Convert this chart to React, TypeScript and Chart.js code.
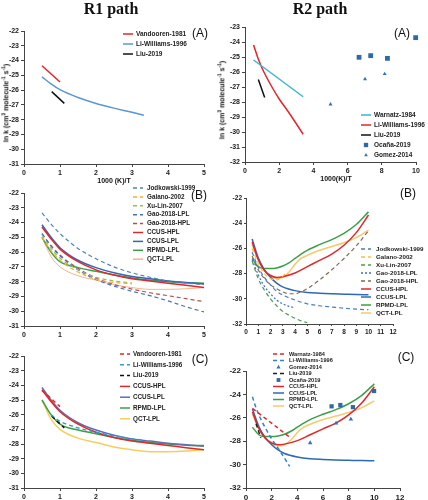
import React, { useEffect, useRef } from 'react';
import { Chart, registerables } from 'chart.js';

Chart.register(...registerables);

type P = [number, number][];

// ---------- R1 path, panel (A)
const R1A_VANDOOREN: P = [[0.5, -24.35], [1.0, -25.45]];
const R1A_LI_WILLIAMS: P = [[0.5, -25.1], [0.75, -25.58], [1, -25.97], [1.5, -26.5], [2, -26.9], [2.5, -27.22], [3, -27.5], [3.33, -27.7]];
const R1A_LIU: P = [[0.77, -26.1], [1.12, -26.9]];

// ---------- R1 path, model curves (B, C)
const R1_CCUS_HPL: P = [[0.5, -24.3], [0.75, -25.1], [1, -25.8], [1.5, -26.65], [2, -27.2], [2.5, -27.55], [3, -27.8], [3.5, -27.95], [4, -28.1], [4.5, -28.25], [5, -28.4]];
const R1_CCUS_LPL: P = [[0.5, -24.15], [0.75, -25.0], [1, -25.7], [1.5, -26.55], [2, -27.05], [2.5, -27.4], [3, -27.65], [3.5, -27.8], [4, -27.95], [4.5, -28.05], [5, -28.15]];
const R1_RPMD_LPL: P = [[0.5, -25.0], [0.75, -26.0], [1, -26.65], [1.5, -27.05], [2, -27.3], [2.5, -27.55], [3, -27.75], [3.5, -27.9], [4, -28.0], [4.5, -28.08], [5, -28.1]];
const R1_QCT_LPL: P = [[0.5, -25.0], [0.75, -26.3], [1, -27.0], [1.5, -27.6], [2, -27.9], [2.5, -28.2], [3, -28.4], [3.5, -28.52], [4, -28.52], [4.5, -28.48], [5, -28.4]];

// ---------- R1 path, panel (B) literature
const R1B_JODKOWSKI: P = [[0.5, -23.35], [0.75, -24.1], [1, -24.75], [1.5, -25.75], [2, -26.45], [2.5, -27.0], [3, -27.4], [3.5, -27.7], [4, -27.95], [4.5, -28.1], [5, -28.2]];
const R1B_GALANO: P = [[0.5, -25.0], [0.75, -25.9], [1, -26.55], [1.5, -27.35], [2, -27.85], [2.5, -28.05], [3, -28.15]];
const R1B_XU_LIN: P = [[0.5, -24.85], [0.75, -25.75], [1, -26.4], [1.5, -27.2], [2, -27.7], [2.5, -27.95], [3, -28.1]];
const R1B_GAO_LPL: P = [[0.5, -24.75], [0.75, -25.6], [1, -26.25], [1.5, -27.2], [2, -27.85], [2.5, -28.3], [3, -28.65], [3.5, -28.95], [4, -29.3], [4.5, -29.7], [5, -30.05]];
const R1B_GAO_HPL: P = [[0.5, -24.75], [0.75, -25.55], [1, -26.2], [1.5, -27.1], [2, -27.75], [2.5, -28.2], [3, -28.5], [3.5, -28.75], [4, -28.95], [4.5, -29.15], [5, -29.35]];

// ---------- R1 path, panel (C) literature
const R1C_LI_WILLIAMS: P = [[0.75, -26.0], [1, -26.45], [1.5, -26.9], [2, -27.2], [2.5, -27.45], [3, -27.65], [3.33, -27.75]];

// ---------- R2 path, panel (A)
const R2A_WARNATZ: P = [[0.5, -25.2], [3.4, -27.65]];
const R2A_LI_WILLIAMS: P = [[0.5, -24.2], [0.75, -25.05], [1, -25.75], [1.5, -26.85], [2, -27.8], [2.5, -28.6], [3, -29.45], [3.4, -30.15]];
const R2A_LIU: P = [[0.78, -26.5], [1.15, -27.7]];
const R2_OCANA: P = [[6.67, -25.02], [7.35, -24.91], [8.33, -25.09], [9.98, -23.71]];
const R2_GOMEZ: P = [[5.0, -28.15], [7.02, -26.47], [8.17, -26.13]];

// ---------- R2 path, model curves (B, C)
const R2_CCUS_HPL: P = [[0.5, -25.5], [1, -26.9], [1.5, -27.75], [2, -28.15], [2.5, -28.3], [3, -28.25], [4, -27.95], [5, -27.45], [6, -26.95], [7, -26.45], [8, -25.75], [9, -24.75], [10, -23.35]];
const R2_CCUS_LPL: P = [[0.5, -25.25], [1, -26.75], [1.5, -27.7], [2, -28.3], [2.5, -28.75], [3, -29.05], [4, -29.35], [5, -29.5], [6, -29.56], [7, -29.6], [8, -29.63], [9, -29.66], [10, -29.68]];
const R2_RPMD_LPL: P = [[0.5, -26.8], [1, -27.45], [1.5, -27.6], [2, -27.6], [2.5, -27.55], [3, -27.4], [3.5, -27.15], [4, -26.8], [4.5, -26.45], [5, -26.15], [6, -25.7], [7, -25.3], [8, -24.8], [9, -24.1], [10, -23.1]];
const R2_QCT_LPL: P = [[0.5, -25.7], [1, -26.9], [1.5, -27.7], [2, -28.2], [2.5, -28.4], [3, -28.3], [3.5, -27.9], [4, -27.25], [4.5, -26.8], [5, -26.55], [6, -26.15], [7, -25.85], [8, -25.55], [9, -25.15], [10, -24.55]];

// ---------- R2 path, panel (B) literature
const R2B_JODKOWSKI: P = [[0.5, -26.3], [1, -27.5], [1.5, -28.3], [2, -28.9], [2.5, -29.4], [3, -29.7], [4, -30.1], [5, -30.4], [6, -30.55], [7, -30.65], [8, -30.75], [9, -30.82], [10, -30.87]];
const R2B_GALANO: P = [[0.5, -26.0], [1, -27.2], [1.5, -28.0], [2, -28.4], [2.5, -28.5], [3, -28.2], [3.3, -27.9]];
const R2B_XU_LIN: P = [[0.5, -27.0], [1, -28.4], [1.5, -29.3], [2, -30.0], [2.5, -30.55], [3, -31.0], [3.5, -31.3], [4, -31.55], [4.5, -31.75], [5, -31.9]];
const R2B_GAO_LPL: P = [[0.5, -26.9], [1, -28.1], [1.5, -29.0], [2, -29.6], [2.5, -30.1], [3, -30.4], [3.5, -30.6], [4, -30.7]];
const R2B_GAO_HPL: P = [[0.5, -26.6], [1, -27.7], [1.5, -28.4], [2, -28.9], [2.5, -29.2], [3, -29.45], [3.5, -29.6], [4, -29.6], [4.5, -29.45], [5, -29.2], [6, -28.5], [7, -27.7], [8, -26.8], [9, -25.8], [10, -24.6]];

const W = 428;
const H = 500;
const SANS = '"Liberation Sans", Arial, sans-serif';

Chart.defaults.font.family = SANS;

interface Series { label: string; pts: P; color: string; dash?: number[]; width?: number; marker?: 'rect' | 'triangle'; r?: number; }
interface Leg { x: number; y: number; dy: number; len: number; gap: number; font: number; }
interface Panel {
  area: [number, number, number, number];
  xr: [number, number, number];
  yr: [number, number, number];
  tick: number; tickLen: number; tickPad: number; xh: number;
  series: Series[];
  leg: Leg;
}

const RED = '#e3262b';
const BLUE = '#2f68b5';
const GREEN = '#3b9f48';
const DASH = [4, 3];

const PANELS: Panel[] = [
  {
    area: [24, 31, 204, 164], xr: [0, 5, 1], yr: [-31, -22, 1], tick: 7, tickLen: 3, tickPad: 2, xh: 14,
    series: [
      { label: 'Vandooren-1981', pts: R1A_VANDOOREN, color: RED },
      { label: 'Li-Williams-1996', pts: R1A_LI_WILLIAMS, color: '#5b97d3' },
      { label: 'Liu-2019', pts: R1A_LIU, color: '#111111' },
    ],
    leg: { x: 123, y: 34, dy: 10, len: 10, gap: 3, font: 6.5 },
  },
  {
    area: [24, 193, 204, 326], xr: [0, 5, 1], yr: [-31, -22, 1], tick: 7, tickLen: 3, tickPad: 2, xh: 14,
    series: [
      { label: 'Jodkowski-1999', pts: R1B_JODKOWSKI, color: '#4f81bd', dash: DASH, width: 1.2 },
      { label: 'Galano-2002', pts: R1B_GALANO, color: '#f2b134', dash: DASH, width: 1.2 },
      { label: 'Xu-Lin-2007', pts: R1B_XU_LIN, color: '#9bbb59', dash: DASH, width: 1.2 },
      { label: 'Gao-2018-LPL', pts: R1B_GAO_LPL, color: '#4472c4', dash: DASH, width: 1.2 },
      { label: 'Gao-2018-HPL', pts: R1B_GAO_HPL, color: '#b5524a', dash: DASH, width: 1.2 },
      { label: 'CCUS-HPL', pts: R1_CCUS_HPL, color: RED },
      { label: 'CCUS-LPL', pts: R1_CCUS_LPL, color: BLUE },
      { label: 'RPMD-LPL', pts: R1_RPMD_LPL, color: GREEN },
      { label: 'QCT-LPL', pts: R1_QCT_LPL, color: '#f6b58a', width: 1 },
    ],
    leg: { x: 133, y: 188, dy: 8.9, len: 10, gap: 4, font: 6.3 },
  },
  {
    area: [24, 356, 204, 488], xr: [0, 5, 1], yr: [-31, -22, 1], tick: 7, tickLen: 3, tickPad: 2, xh: 14,
    series: [
      { label: 'Vandooren-1981', pts: R1A_VANDOOREN, color: RED, dash: DASH },
      { label: 'Li-Williams-1996', pts: R1C_LI_WILLIAMS, color: '#2a9fcf', dash: DASH },
      { label: 'Liu-2019', pts: R1A_LIU, color: '#111111', dash: DASH },
      { label: 'CCUS-HPL', pts: R1_CCUS_HPL, color: RED },
      { label: 'CCUS-LPL', pts: R1_CCUS_LPL, color: '#5a6fb8' },
      { label: 'RPMD-LPL', pts: R1_RPMD_LPL, color: GREEN },
      { label: 'QCT-LPL', pts: R1_QCT_LPL, color: '#f5cf5c' },
    ],
    leg: { x: 120, y: 354, dy: 10.8, len: 10, gap: 3, font: 6.3 },
  },
  {
    area: [245, 27, 416, 162], xr: [0, 10, 2], yr: [-32, -23, 1], tick: 7, tickLen: 3, tickPad: 2, xh: 14,
    series: [
      { label: 'Warnatz-1984', pts: R2A_WARNATZ, color: '#3db5d5' },
      { label: 'Li-Williams-1996', pts: R2A_LI_WILLIAMS, color: RED },
      { label: 'Liu-2019', pts: R2A_LIU, color: '#111111' },
      { label: 'Ocaña-2019', pts: R2_OCANA, color: '#2f6aa8', marker: 'rect', r: 3.4 },
      { label: 'Gomez-2014', pts: R2_GOMEZ, color: '#2e75b6', marker: 'triangle', r: 2.3 },
    ],
    leg: { x: 361, y: 115, dy: 10, len: 10, gap: 3, font: 6.5 },
  },
  {
    area: [246, 198, 393, 324], xr: [0, 12, 1], yr: [-32, -22, 2], tick: 6.5, tickLen: 2, tickPad: 2, xh: 13,
    series: [
      { label: 'Jodkowski-1999', pts: R2B_JODKOWSKI, color: '#4a7cc0', dash: DASH, width: 1.2 },
      { label: 'Galano-2002', pts: R2B_GALANO, color: '#f5c04a', dash: DASH, width: 1.2 },
      { label: 'Xu-Lin-2007', pts: R2B_XU_LIN, color: '#4f9a55', dash: DASH, width: 1.2 },
      { label: 'Gao-2018-LPL', pts: R2B_GAO_LPL, color: '#3b6fc0', dash: [2, 2], width: 1.2 },
      { label: 'Gao-2018-HPL', pts: R2B_GAO_HPL, color: '#7d6a52', dash: DASH, width: 1.2 },
      { label: 'CCUS-HPL', pts: R2_CCUS_HPL, color: RED },
      { label: 'CCUS-LPL', pts: R2_CCUS_LPL, color: BLUE },
      { label: 'RPMD-LPL', pts: R2_RPMD_LPL, color: GREEN },
      { label: 'QCT-LPL', pts: R2_QCT_LPL, color: '#f9c86d' },
    ],
    leg: { x: 361, y: 249, dy: 8, len: 10, gap: 5, font: 6.2 },
  },
  {
    area: [246, 371, 400, 488], xr: [0, 12, 2], yr: [-32, -22, 2], tick: 8, tickLen: 3, tickPad: 2, xh: 14,
    series: [
      { label: 'Warnatz-1984', pts: R2A_WARNATZ, color: RED, dash: DASH },
      { label: 'Li-Williams-1996', pts: R2A_LI_WILLIAMS, color: '#2e86c1', dash: DASH },
      { label: 'Gomez-2014', pts: R2_GOMEZ, color: '#2e75b6', marker: 'triangle', r: 2.6 },
      { label: 'Liu-2019', pts: R2A_LIU, color: '#222222', dash: DASH },
      { label: 'Ocaña-2019', pts: R2_OCANA, color: '#2f6aa8', marker: 'rect', r: 3 },
      { label: 'CCUS-HPL', pts: R2_CCUS_HPL, color: RED },
      { label: 'CCUS-LPL', pts: R2_CCUS_LPL, color: BLUE },
      { label: 'RPMD-LPL', pts: R2_RPMD_LPL, color: GREEN },
      { label: 'QCT-LPL', pts: R2_QCT_LPL, color: '#f9c96b' },
    ],
    leg: { x: 273, y: 354, dy: 6.5, len: 11, gap: 5, font: 5.6 },
  },
];

function drawMarker(ctx: CanvasRenderingContext2D, kind: string, x: number, y: number, r: number) {
  ctx.beginPath();
  if (kind === 'rect') {
    const s = r * Math.SQRT1_2;
    ctx.rect(x - s, y - s, 2 * s, 2 * s);
  } else {
    ctx.moveTo(x, y - r);
    ctx.lineTo(x + r * 0.9, y + r * 0.6);
    ctx.lineTo(x - r * 0.9, y + r * 0.6);
    ctx.closePath();
  }
  ctx.fill();
}

const legendPlugin = {
  id: 'panelLegend',
  afterDraw(chart: any, _args: any, o: any) {
    const ctx: CanvasRenderingContext2D = chart.ctx;
    ctx.save();
    ctx.font = `bold ${o.font}px ${SANS}`;
    ctx.textBaseline = 'middle';
    chart.data.datasets.forEach((ds: any, i: number) => {
      const y = o.y + i * o.dy;
      if (ds.showLine) {
        ctx.strokeStyle = ds.borderColor;
        ctx.lineWidth = 1.5;
        ctx.setLineDash(ds.borderDash || []);
        ctx.beginPath();
        ctx.moveTo(o.x, y);
        ctx.lineTo(o.x + o.len, y);
        ctx.stroke();
      } else {
        ctx.setLineDash([]);
        ctx.fillStyle = ds.backgroundColor;
        drawMarker(ctx, ds.pointStyle, o.x + o.len / 2, y, ds.pointRadius * 0.9);
      }
      ctx.fillStyle = '#222';
      ctx.fillText(ds.label, o.x + o.len + o.gap, y);
    });
    ctx.restore();
  },
};

function PanelChart({ p }: { p: Panel }) {
  const ref = useRef<HTMLCanvasElement>(null);
  useEffect(() => {
    const canvas = ref.current;
    if (!canvas) return;
    const [l, t, r, b] = p.area;
    const axisCommon = (size: number) => ({
      grid: { drawOnChartArea: false, drawTicks: true, tickLength: p.tickLen, color: '#444', lineWidth: 1 },
      border: { color: '#444', width: 1 },
      ticks: { font: { size, weight: 'bold' }, color: '#222', padding: p.tickPad, autoSkip: false, maxRotation: 0 },
    });
    const xa: any = axisCommon(p.tick);
    const ya: any = axisCommon(p.tick);
    const chart = new Chart(canvas, {
      type: 'scatter',
      data: {
        datasets: p.series.map((s) => ({
          label: s.label,
          data: s.pts.map(([x, y]) => ({ x, y })),
          showLine: !s.marker,
          borderColor: s.color,
          backgroundColor: s.color,
          borderWidth: s.marker ? 0 : (s.width ?? 1.5),
          borderDash: s.dash ?? [],
          pointRadius: s.marker ? (s.r ?? 3) : 0,
          pointBorderWidth: 0,
          pointStyle: s.marker ?? 'circle',
          cubicInterpolationMode: 'monotone',
          clip: s.marker ? 6 : undefined,
        })) as any,
      },
      options: {
        animation: false,
        responsive: false,
        events: [],
        layout: { padding: { left: 0, top: t, right: W - r, bottom: H - b - p.xh } },
        plugins: {
          legend: { display: false },
          tooltip: { enabled: false },
          panelLegend: p.leg,
        } as any,
        scales: {
          x: {
            type: 'linear', min: p.xr[0], max: p.xr[1],
            ...xa,
            ticks: { ...xa.ticks, stepSize: p.xr[2] },
            afterFit: (s: any) => { s.height = p.xh; s.paddingLeft = 0; s.paddingRight = 0; },
          },
          y: {
            type: 'linear', min: p.yr[0], max: p.yr[1],
            ...ya,
            ticks: { ...ya.ticks, stepSize: p.yr[2] },
            afterFit: (s: any) => { s.width = l; s.paddingTop = 0; s.paddingBottom = 0; },
          },
        } as any,
      },
      plugins: [legendPlugin],
    });
    return () => chart.destroy();
  }, [p]);
  return <canvas ref={ref} width={W} height={H} style={{ position: 'absolute', left: 0, top: 0, width: W, height: H }} />;
}

function Txt({ x, y, size, children, bold = true, serif = false, rotate = false }: any) {
  return (
    <div
      style={{
        position: 'absolute', left: x, top: y,
        transform: `translate(-50%, -50%)${rotate ? ' rotate(-90deg)' : ''}`,
        whiteSpace: 'nowrap', fontSize: size, lineHeight: 1,
        fontWeight: bold ? 'bold' : 'normal',
        fontFamily: serif ? '"Liberation Serif", "Times New Roman", serif' : SANS,
        color: '#111',
      }}
    >
      {children}
    </div>
  );
}

const YTitle = () => (
  <>ln k (cm<sup style={{ fontSize: '70%' }}>3</sup> molecule<sup style={{ fontSize: '70%' }}>-1</sup> s<sup style={{ fontSize: '70%' }}>-1</sup>)</>
);

export default function App() {
  return (
    <div style={{ position: 'fixed', left: 0, top: 0, width: W, height: H, background: '#fff', overflow: 'hidden' }}>
      {PANELS.map((p, i) => <PanelChart key={i} p={p} />)}
      <Txt x={111} y={9} size={16} serif>R1 path</Txt>
      <Txt x={320} y={9} size={16} serif>R2 path</Txt>
      <Txt x={200} y={33} size={12} bold={false}>(A)</Txt>
      <Txt x={402} y={33} size={12} bold={false}>(A)</Txt>
      <Txt x={199} y={195} size={12} bold={false}>(B)</Txt>
      <Txt x={408} y={193} size={12} bold={false}>(B)</Txt>
      <Txt x={200} y={359} size={12} bold={false}>(C)</Txt>
      <Txt x={406} y={357} size={12} bold={false}>(C)</Txt>
      <Txt x={6} y={103} size={7} rotate><YTitle /></Txt>
      <Txt x={222} y={100} size={7} rotate><YTitle /></Txt>
      <Txt x={114} y={180} size={7}>1000 (K)/T</Txt>
      <Txt x={336} y={178} size={7}>1000(K)/T</Txt>
    </div>
  );
}
